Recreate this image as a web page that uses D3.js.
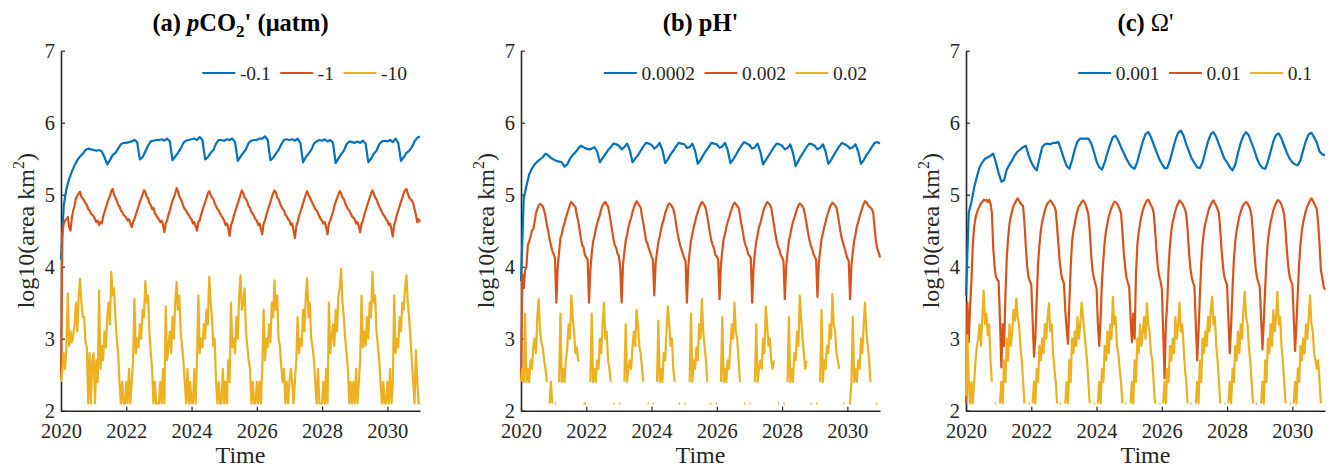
<!DOCTYPE html>
<html>
<head>
<meta charset="utf-8">
<script src="https://cdn.jsdelivr.net/npm/d3@7"></script>
<style>
  body { margin: 0; background: #fff; }
  svg { display: block; font-family: "Liberation Serif", "Times New Roman", serif; }
</style>
</head>
<body>
<svg id="chart" width="1330" height="468"></svg>
<script>
// time axis: every series starts at 2020, values are sampled evenly through each year
const startYear = 2020;
const endYear = 2031;
const yearTicks = [2020, 2022, 2024, 2026, 2028, 2030];
const levelTicks = [2, 3, 4, 5, 6, 7];
const colors = ["#0072BD", "#D95319", "#EDB120"];

const pco2Legend = ["-0.1", "-1", "-10"];
const phLegend = ["0.0002", "0.002", "0.02"];
const omegaLegend = ["0.001", "0.01", "0.1"];

// (a) pCO2' — 12 values per year for blue, 24 for red/yellow
const pco2Blue = [
  4.10, 4.85, 5.08, 5.22, 5.32, 5.41, 5.48, 5.53, 5.57, 5.62, 5.64, 5.63,
  5.62, 5.61, 5.62, 5.60, 5.52, 5.42, 5.48, 5.55, 5.58, 5.64, 5.70, 5.72,
  5.72, 5.73, 5.74, 5.76, 5.73, 5.49, 5.52, 5.60, 5.68, 5.74, 5.75, 5.76,
  5.76, 5.77, 5.75, 5.78, 5.74, 5.48, 5.53, 5.58, 5.64, 5.72, 5.75, 5.76,
  5.77, 5.78, 5.76, 5.80, 5.76, 5.49, 5.52, 5.58, 5.62, 5.71, 5.76, 5.76,
  5.75, 5.77, 5.76, 5.78, 5.73, 5.47, 5.53, 5.58, 5.63, 5.72, 5.75, 5.76,
  5.76, 5.78, 5.78, 5.81, 5.76, 5.48, 5.51, 5.57, 5.62, 5.70, 5.76, 5.77,
  5.76, 5.77, 5.75, 5.78, 5.72, 5.45, 5.52, 5.57, 5.62, 5.71, 5.74, 5.76,
  5.75, 5.77, 5.74, 5.76, 5.72, 5.44, 5.50, 5.56, 5.61, 5.70, 5.74, 5.73,
  5.72, 5.74, 5.72, 5.75, 5.71, 5.45, 5.50, 5.57, 5.61, 5.70, 5.74, 5.75,
  5.74, 5.76, 5.73, 5.78, 5.72, 5.47, 5.52, 5.58, 5.61, 5.66, 5.74, 5.79,
  5.81
];
const pco2Red = [
  2.45, 4.45, 4.60, 4.64, 4.66, 4.69, 4.55, 4.50, 4.68, 4.78, 4.85, 4.95, 4.98, 5.02, 5.04, 4.97, 4.95, 4.92, 4.88, 4.86, 4.80, 4.78, 4.74, 4.72,
  4.70, 4.66, 4.62, 4.64, 4.58, 4.62, 4.60, 4.70, 4.76, 4.82, 4.88, 4.94, 4.98, 5.05, 5.08, 5.00, 4.96, 4.92, 4.86, 4.84, 4.78, 4.76, 4.72, 4.70,
  4.68, 4.64, 4.66, 4.60, 4.55, 4.62, 4.66, 4.72, 4.78, 4.84, 4.90, 4.95, 5.00, 5.06, 5.04, 4.97, 4.95, 4.88, 4.86, 4.80, 4.82, 4.74, 4.72, 4.68,
  4.66, 4.62, 4.64, 4.58, 4.48, 4.60, 4.64, 4.72, 4.78, 4.85, 4.92, 4.96, 5.02, 5.09, 5.05, 4.98, 4.94, 4.90, 4.84, 4.80, 4.78, 4.74, 4.72, 4.68,
  4.66, 4.60, 4.62, 4.56, 4.50, 4.62, 4.64, 4.72, 4.78, 4.84, 4.90, 4.95, 5.02, 5.05, 5.00, 4.96, 4.94, 4.88, 4.84, 4.80, 4.78, 4.74, 4.70, 4.68,
  4.64, 4.58, 4.60, 4.54, 4.43, 4.58, 4.62, 4.70, 4.76, 4.82, 4.88, 4.94, 5.00, 5.06, 5.02, 4.96, 4.94, 4.90, 4.84, 4.82, 4.76, 4.74, 4.70, 4.66,
  4.64, 4.58, 4.60, 4.52, 4.45, 4.60, 4.64, 4.72, 4.78, 4.84, 4.90, 4.96, 5.02, 5.06, 5.03, 4.96, 4.94, 4.88, 4.84, 4.80, 4.78, 4.72, 4.70, 4.66,
  4.64, 4.58, 4.60, 4.50, 4.40, 4.56, 4.62, 4.70, 4.76, 4.82, 4.88, 4.94, 5.00, 5.05, 5.00, 4.96, 4.92, 4.88, 4.84, 4.80, 4.78, 4.74, 4.70, 4.66,
  4.64, 4.60, 4.62, 4.54, 4.45, 4.60, 4.64, 4.70, 4.76, 4.84, 4.90, 4.95, 5.00, 5.05, 5.02, 4.96, 4.94, 4.88, 4.84, 4.80, 4.78, 4.74, 4.70, 4.68,
  4.66, 4.60, 4.62, 4.56, 4.48, 4.60, 4.64, 4.72, 4.78, 4.84, 4.90, 4.96, 5.01, 5.06, 5.02, 4.96, 4.94, 4.88, 4.84, 4.80, 4.76, 4.72, 4.70, 4.66,
  4.64, 4.58, 4.60, 4.52, 4.42, 4.58, 4.64, 4.72, 4.78, 4.84, 4.90, 4.96, 5.02, 5.06, 5.08, 5.02, 4.96, 4.94, 4.92, 4.88, 4.80, 4.72, 4.62, 4.66,
  4.62
];
const pco2Yellow = [
  2.4, 2.58, 2.8, 2.58, 2.88, 3.63, 2.9, 3.1, 2.95, 3.05, 3.2, 3.5, 3.1, 3.6, 3.83, 3.5, 3.3, 3.3, 2.95, 2.88, 2.1, 2.8, 2.1, 2.7,
  2.8, 2.1, 2.7, 2.4, 3.67, 2.58, 2.9, 2.7, 3.1, 2.88, 3.3, 3.5, 3.2, 3.93, 3.6, 3.7, 3.3, 3.0, 2.8, 2.4, 2.1, 2.4, 2.1, 2.1,
  2.4, 2.1, 2.58, 2.1, 2.4, 2.7, 3.55, 2.8, 3.0, 2.88, 3.2, 3.0, 3.4, 3.3, 3.8, 3.5, 3.6, 3.1, 2.8, 2.58, 2.1, 2.4, 2.1, 2.1,
  2.1, 2.4, 2.1, 2.58, 2.1, 3.45, 2.7, 2.9, 3.1, 2.8, 3.3, 3.0, 3.5, 3.79, 3.4, 3.6, 3.1, 2.9, 2.7, 2.4, 2.1, 2.58, 2.1, 2.4,
  2.1, 2.1, 2.58, 2.1, 2.7, 3.6, 2.8, 3.0, 2.88, 3.2, 3.0, 3.4, 3.2, 3.86, 3.5, 3.3, 2.9, 3.0, 2.4, 2.1, 2.4, 2.1, 2.1, 2.58,
  2.1, 2.4, 2.1, 2.7, 2.4, 3.5, 2.88, 3.0, 2.8, 3.3, 3.0, 3.6, 3.88, 3.4, 3.5, 3.7, 3.1, 2.9, 2.7, 2.58, 2.1, 2.4, 2.1, 2.1,
  2.4, 2.1, 2.4, 2.1, 2.58, 3.4, 2.7, 3.0, 2.88, 3.2, 2.95, 3.5, 3.3, 3.81, 3.4, 3.6, 3.0, 2.9, 2.6, 2.4, 2.58, 2.1, 2.4, 2.1,
  2.4, 2.58, 2.4, 2.1, 2.4, 2.7, 3.3, 2.8, 3.0, 2.9, 3.4, 3.1, 3.6, 3.84, 3.3, 3.5, 3.0, 2.88, 2.7, 2.4, 2.1, 2.58, 2.1, 2.1,
  2.1, 2.4, 2.1, 2.58, 2.1, 3.5, 2.8, 3.0, 3.2, 2.9, 3.4, 3.1, 3.6, 3.7, 3.97, 3.5, 3.3, 3.0, 2.8, 2.58, 2.1, 2.4, 2.1, 2.4,
  2.1, 2.58, 2.1, 2.4, 2.7, 3.6, 2.88, 3.1, 2.9, 3.3, 3.0, 3.5, 3.3, 3.93, 3.5, 3.6, 3.1, 2.9, 2.7, 2.4, 2.1, 2.4, 2.1, 2.1,
  2.4, 2.1, 2.58, 2.1, 2.4, 3.6, 2.8, 3.0, 2.88, 3.3, 3.1, 3.5, 3.4, 3.7, 3.88, 3.5, 3.3, 3.0, 2.7, 2.4, 2.1, 2.84, 2.4, 2.1,
  2.1
];

// (b) pH'
const phBlue = [
  3.80, 4.95, 5.12, 5.28, 5.36, 5.42, 5.46, 5.49, 5.52, 5.57, 5.55, 5.51,
  5.49, 5.47, 5.46, 5.45, 5.39, 5.42, 5.50, 5.55, 5.59, 5.64, 5.68, 5.66,
  5.64, 5.63, 5.64, 5.66, 5.60, 5.45, 5.51, 5.56, 5.62, 5.66, 5.71, 5.70,
  5.68, 5.63, 5.66, 5.71, 5.62, 5.45, 5.50, 5.55, 5.61, 5.67, 5.72, 5.71,
  5.69, 5.64, 5.67, 5.72, 5.62, 5.44, 5.49, 5.56, 5.61, 5.67, 5.72, 5.71,
  5.70, 5.65, 5.66, 5.71, 5.61, 5.43, 5.48, 5.55, 5.61, 5.66, 5.72, 5.71,
  5.70, 5.65, 5.67, 5.72, 5.62, 5.44, 5.49, 5.55, 5.62, 5.68, 5.73, 5.71,
  5.69, 5.64, 5.66, 5.71, 5.60, 5.42, 5.48, 5.54, 5.60, 5.66, 5.71, 5.70,
  5.68, 5.63, 5.65, 5.70, 5.58, 5.40, 5.47, 5.54, 5.60, 5.66, 5.71, 5.70,
  5.68, 5.63, 5.65, 5.70, 5.60, 5.43, 5.48, 5.55, 5.61, 5.67, 5.72, 5.70,
  5.68, 5.64, 5.66, 5.70, 5.60, 5.43, 5.48, 5.55, 5.60, 5.66, 5.72, 5.73,
  5.71
];
const phRed = [
  2.45, 3.90, 3.70, 3.95, 4.00, 4.30, 4.35, 4.42, 4.50, 4.52, 4.62, 4.74, 4.80, 4.85, 4.87, 4.86, 4.84, 4.78, 4.70, 4.58, 4.50, 4.38, 4.30, 4.22,
  4.18, 4.12, 3.50, 4.00, 4.20, 4.40, 4.45, 4.55, 4.60, 4.68, 4.74, 4.80, 4.86, 4.90, 4.88, 4.85, 4.83, 4.72, 4.64, 4.52, 4.40, 4.30, 4.27, 4.16,
  4.13, 4.10, 3.50, 3.95, 4.18, 4.35, 4.42, 4.52, 4.60, 4.66, 4.72, 4.80, 4.85, 4.88, 4.90, 4.86, 4.84, 4.74, 4.62, 4.50, 4.38, 4.30, 4.26, 4.18,
  4.15, 3.98, 3.50, 4.02, 4.20, 4.36, 4.44, 4.55, 4.62, 4.68, 4.76, 4.82, 4.87, 4.91, 4.88, 4.85, 4.82, 4.70, 4.60, 4.48, 4.36, 4.32, 4.25, 4.20,
  4.14, 4.10, 3.60, 4.05, 4.20, 4.34, 4.42, 4.52, 4.60, 4.66, 4.74, 4.80, 4.85, 4.88, 4.86, 4.84, 4.80, 4.72, 4.60, 4.48, 4.38, 4.30, 4.24, 4.18,
  4.12, 4.08, 3.50, 4.00, 4.20, 4.36, 4.45, 4.55, 4.62, 4.70, 4.76, 4.82, 4.86, 4.90, 4.88, 4.85, 4.80, 4.70, 4.58, 4.46, 4.36, 4.30, 4.25, 4.16,
  4.14, 4.10, 3.55, 4.02, 4.22, 4.38, 4.45, 4.55, 4.62, 4.68, 4.75, 4.80, 4.86, 4.89, 4.87, 4.84, 4.82, 4.72, 4.60, 4.50, 4.38, 4.30, 4.26, 4.18,
  4.15, 4.12, 3.50, 3.98, 4.20, 4.35, 4.44, 4.55, 4.60, 4.68, 4.76, 4.82, 4.86, 4.90, 4.88, 4.86, 4.82, 4.70, 4.58, 4.46, 4.36, 4.28, 4.24, 4.16,
  4.13, 4.08, 3.55, 4.00, 4.20, 4.36, 4.44, 4.54, 4.62, 4.68, 4.74, 4.80, 4.85, 4.88, 4.86, 4.84, 4.80, 4.70, 4.60, 4.48, 4.38, 4.30, 4.25, 4.18,
  4.14, 4.10, 3.58, 4.05, 4.22, 4.38, 4.46, 4.55, 4.62, 4.70, 4.76, 4.82, 4.86, 4.89, 4.87, 4.85, 4.82, 4.72, 4.60, 4.48, 4.38, 4.32, 4.26, 4.18,
  4.12, 4.08, 3.55, 4.02, 4.20, 4.36, 4.45, 4.56, 4.62, 4.70, 4.76, 4.82, 4.87, 4.91, 4.90, 4.86, 4.84, 4.82, 4.80, 4.75, 4.55, 4.35, 4.25, 4.20,
  4.13
];
const phYellow = [
  2.4, 2.58, 2.4, 3.35, 2.4, 2.58, 2.4, 2.7, 2.58, 2.88, 3.0, 2.8, 3.3, 3.55, 3.1, 2.95, 2.88, 2.7, 2.58, 2.4, null, 2.1, 2.4, 2.1,
  null, 2.1, 2.1, null, 2.4, 3.35, 2.4, 2.58, 2.4, 2.7, 2.88, 3.2, 3.0, 3.6, 3.3, 3.1, 2.8, 2.88, 2.7, 2.7, null, null, 2.1, 2.1,
  2.1, null, null, 2.4, 3.35, 2.4, 2.58, 2.4, 2.7, 2.58, 3.0, 2.8, 3.2, 3.5, 3.0, 3.1, 2.7, 2.58, 2.4, null, 2.1, 2.1, null, null,
  2.1, 2.1, null, null, 2.4, 3.2, 2.4, 2.58, 2.7, 2.58, 2.88, 3.1, 2.9, 3.4, 3.2, 2.9, 2.8, 2.58, 2.4, null, null, 2.1, 2.1, null,
  null, 2.1, 2.1, null, 2.4, 3.25, 2.4, 2.58, 2.4, 2.8, 2.7, 3.1, 3.45, 3.2, 2.9, 3.0, 2.58, 2.4, null, null, 2.1, 2.1, null, null,
  2.1, 2.1, null, null, 2.4, 3.35, 2.4, 2.7, 2.58, 2.88, 2.7, 3.2, 3.0, 3.55, 3.1, 2.9, 2.7, 2.4, null, 2.1, 2.1, null, null, 2.1,
  2.1, null, null, 2.4, 3.3, 2.4, 2.58, 2.4, 2.7, 2.58, 2.9, 3.2, 3.0, 3.5, 3.1, 3.0, 2.7, 2.4, null, null, 2.1, 2.1, null, null,
  2.1, 2.1, null, null, 2.4, 3.2, 2.4, 2.58, 2.7, 2.58, 3.0, 2.8, 3.45, 3.2, 2.9, 3.0, 2.7, 2.58, 2.7, null, null, 2.1, 2.1, null,
  null, 2.1, 2.1, null, 2.4, 3.3, 2.4, 2.58, 2.4, 2.8, 2.7, 3.1, 2.9, 3.6, 3.3, 3.0, 2.8, 2.58, 2.7, null, null, 2.1, 2.1, null,
  null, 2.1, 2.1, null, 2.4, 3.4, 2.4, 2.7, 2.58, 2.9, 2.8, 3.2, 3.0, 3.62, 3.2, 3.1, 2.8, 2.7, 2.58, null, null, 2.1, 2.1, null,
  null, 2.1, 2.1, 2.4, 3.3, 2.4, 2.58, 2.4, 2.7, 2.58, 3.0, 2.8, 3.2, 3.5, 3.1, 2.9, 2.7, 2.4, null, null, null, 2.1, 2.1, null,
  null
];

// (c) Omega'
const omegaBlue = [
  3.60, 4.75, 4.90, 5.10, 5.25, 5.38, 5.45, 5.50, 5.52, 5.54, 5.57, 5.45,
  5.30, 5.18, 5.20, 5.35, 5.42, 5.48, 5.55, 5.60, 5.63, 5.66, 5.68, 5.55,
  5.45, 5.38, 5.34, 5.50, 5.66, 5.70, 5.71, 5.70, 5.72, 5.72, 5.73, 5.62,
  5.50, 5.40, 5.36, 5.48, 5.63, 5.74, 5.78, 5.78, 5.78, 5.78, 5.72, 5.60,
  5.46, 5.38, 5.35, 5.45, 5.58, 5.70, 5.80, 5.82, 5.75, 5.66, 5.58, 5.50,
  5.43, 5.38, 5.36, 5.46, 5.60, 5.74, 5.84, 5.87, 5.80, 5.70, 5.60, 5.50,
  5.43, 5.37, 5.37, 5.48, 5.62, 5.76, 5.86, 5.89, 5.82, 5.70, 5.60, 5.50,
  5.44, 5.38, 5.37, 5.45, 5.60, 5.74, 5.84, 5.87, 5.80, 5.70, 5.60, 5.50,
  5.45, 5.38, 5.34, 5.42, 5.58, 5.72, 5.82, 5.87, 5.82, 5.72, 5.62, 5.50,
  5.42, 5.37, 5.36, 5.46, 5.60, 5.74, 5.83, 5.85, 5.78, 5.68, 5.58, 5.50,
  5.45, 5.42, 5.41, 5.48, 5.62, 5.75, 5.84, 5.86, 5.80, 5.72, 5.60, 5.56,
  5.55
];
const omegaRed = [
  2.10, 3.50, 2.95, 3.45, 3.80, 4.30, 4.55, 4.68, 4.75, 4.80, 4.84, 4.88, 4.90, 4.93, 4.92, 4.93, 4.90, 4.93, 4.88, 4.75, 4.28, 4.00, 3.86, 3.82,
  3.80, 3.25, 2.60, 3.20, 2.90, 3.60, 4.13, 4.40, 4.60, 4.70, 4.78, 4.85, 4.88, 4.92, 4.95, 4.92, 4.88, 4.86, 4.84, 4.60, 4.28, 4.00, 3.85, 3.80,
  3.75, 3.25, 2.75, 3.00, 3.55, 4.04, 4.30, 4.50, 4.62, 4.70, 4.78, 4.84, 4.88, 4.90, 4.92, 4.90, 4.86, 4.84, 4.78, 4.55, 4.30, 4.05, 3.90, 3.82,
  3.77, 3.40, 3.14, 2.93, 3.50, 4.00, 4.35, 4.50, 4.60, 4.70, 4.78, 4.84, 4.86, 4.90, 4.92, 4.90, 4.86, 4.80, 4.72, 4.50, 4.18, 3.95, 3.85, 3.77,
  3.70, 3.20, 2.90, 3.30, 3.80, 4.10, 4.35, 4.50, 4.60, 4.70, 4.76, 4.82, 4.86, 4.90, 4.90, 4.88, 4.84, 4.80, 4.74, 4.50, 4.20, 4.00, 3.85, 3.78,
  3.72, 3.30, 2.95, 3.35, 3.00, 3.90, 4.30, 4.48, 4.60, 4.70, 4.78, 4.84, 4.88, 4.92, 4.93, 4.90, 4.85, 4.82, 4.75, 4.52, 4.25, 4.00, 3.88, 3.80,
  3.70, 3.10, 2.45, 3.20, 3.50, 4.00, 4.30, 4.50, 4.62, 4.70, 4.78, 4.84, 4.88, 4.92, 4.90, 4.88, 4.84, 4.80, 4.72, 4.50, 4.20, 3.98, 3.85, 3.78,
  3.72, 3.20, 2.70, 3.10, 3.60, 4.05, 4.32, 4.50, 4.60, 4.68, 4.76, 4.82, 4.86, 4.90, 4.92, 4.88, 4.85, 4.80, 4.74, 4.50, 4.22, 4.00, 3.86, 3.80,
  3.74, 3.25, 2.80, 3.20, 3.70, 4.10, 4.35, 4.50, 4.60, 4.70, 4.76, 4.82, 4.86, 4.88, 4.90, 4.88, 4.84, 4.80, 4.70, 4.48, 4.20, 3.98, 3.85, 3.78,
  3.72, 3.30, 2.85, 3.25, 3.70, 4.10, 4.35, 4.50, 4.62, 4.70, 4.78, 4.84, 4.88, 4.92, 4.92, 4.90, 4.86, 4.80, 4.72, 4.50, 4.22, 4.00, 3.86, 3.80,
  3.75, 3.30, 2.83, 3.20, 3.65, 4.05, 4.32, 4.50, 4.62, 4.70, 4.78, 4.84, 4.88, 4.92, 4.95, 4.92, 4.88, 4.84, 4.80, 4.60, 4.30, 3.95, 3.85, 3.72,
  3.68
];
const omegaYellow = [
  2.2, 3.05, 2.4, 2.1, 2.4, 2.1, 2.4, 2.7, 2.9, 3.0, 3.2, 2.9, 3.3, 3.67, 3.2, 3.35, 3.05, 3.2, 2.7, 2.4, null, 2.1, 2.1, null,
  null, 2.1, 2.4, 2.1, 2.7, 2.4, 3.0, 2.7, 3.2, 2.9, 3.1, 3.4, 3.25, 3.56, 3.3, 3.2, 2.9, 2.7, 2.4, 2.1, null, null, 2.1, 2.1,
  null, 2.1, 2.4, 2.1, 2.58, 2.4, 2.9, 2.7, 3.0, 2.8, 3.2, 3.0, 3.3, 3.49, 3.1, 3.2, 2.8, 2.58, 2.4, 2.1, null, 2.1, 2.1, null,
  null, 2.1, 2.4, 2.1, 2.7, 2.4, 3.0, 2.8, 3.1, 2.9, 3.3, 3.0, 3.2, 3.5, 3.3, 3.1, 2.9, 2.7, 2.4, 2.1, null, null, 2.1, 2.1,
  null, 2.1, 2.4, 2.1, 2.58, 2.4, 2.9, 2.7, 3.1, 2.8, 3.2, 3.0, 3.58, 3.2, 3.3, 2.9, 2.8, 2.58, 2.4, 2.1, null, 2.1, 2.1, null,
  null, 2.1, 2.4, 2.1, 2.7, 2.4, 3.0, 2.8, 3.2, 2.9, 3.1, 3.3, 3.0, 3.49, 3.2, 3.1, 2.8, 2.7, 2.4, 2.1, null, null, 2.1, 2.1,
  null, 2.1, 2.4, 2.1, 2.58, 2.4, 2.9, 2.7, 3.0, 2.8, 3.3, 3.0, 3.2, 3.5, 3.1, 3.2, 2.9, 2.58, 2.4, 2.1, null, 2.1, 2.1, null,
  null, 2.1, 2.4, 2.1, 2.7, 2.4, 3.0, 2.8, 3.1, 2.9, 3.3, 3.1, 3.4, 3.58, 3.2, 3.3, 2.9, 2.7, 2.4, 2.1, null, null, 2.1, 2.1,
  null, 2.1, 2.4, 2.1, 2.58, 2.4, 2.9, 2.7, 3.1, 2.8, 3.2, 3.0, 3.4, 3.65, 3.3, 3.2, 2.9, 2.7, 2.4, 2.1, null, 2.1, 2.1, null,
  null, 2.1, 2.4, 2.1, 2.7, 2.4, 3.0, 2.8, 3.2, 2.9, 3.4, 3.1, 3.3, 3.65, 3.2, 3.3, 2.9, 2.7, 2.4, 2.1, null, null, 2.1, 2.1,
  null, 2.1, 2.4, 2.1, 2.58, 2.4, 2.9, 2.7, 3.0, 2.8, 3.2, 3.0, 3.3, 3.6, 3.2, 3.1, 2.8, 2.7, 2.58, 2.7, 2.4, 2.1, null, null,
  null
];

const panels = [
  {
    left: 61,
    title: [{ text: "(a) " }, { text: "p", italic: true }, { text: "CO" }, { text: "2", sub: true }, { text: "' (μatm)", back: true }],
    legend: pco2Legend,
    series: [[pco2Blue, 12], [pco2Red, 24], [pco2Yellow, 24]]
  },
  {
    left: 521,
    title: [{ text: "(b) pH'" }],
    legend: phLegend,
    series: [[phBlue, 12], [phRed, 24], [phYellow, 24]]
  },
  {
    left: 966,
    title: [{ text: "(c) " }, { text: "Ω'", normal: true }],
    legend: omegaLegend,
    series: [[omegaBlue, 12], [omegaRed, 24], [omegaYellow, 24]]
  }
];

const svg = d3.select("#chart");
const plotTop = 50.7, plotBottom = 410.7, plotWidth = 359;
const axisColor = "#262626";

const y = d3.scaleLinear().domain([2, 7]).range([plotBottom, plotTop]);

panels.forEach(p => {
  const x = d3.scaleLinear().domain([startYear, endYear]).range([p.left, p.left + plotWidth]);
  const cx = p.left + plotWidth / 2;
  const g = svg.append("g");

  // Axes (MATLAB style: ticks pointing inward, no box)
  const xAxis = g.append("g")
    .attr("transform", `translate(0,${plotBottom})`)
    .call(d3.axisBottom(x).tickValues(yearTicks).tickFormat(d3.format("d"))
      .tickSizeInner(-4).tickSizeOuter(0).tickPadding(12.5));

  const yAxis = g.append("g")
    .attr("transform", `translate(${p.left},0)`)
    .call(d3.axisLeft(y).tickValues(levelTicks).tickFormat(d3.format("d"))
      .tickSizeInner(-4).tickSizeOuter(0).tickPadding(6));

  [xAxis, yAxis].forEach(a => {
    a.attr("font-family", null).attr("font-size", null);
    a.select(".domain").attr("stroke", axisColor).attr("stroke-width", 1.6);
    a.selectAll(".tick line").attr("stroke", axisColor).attr("stroke-width", 1.2);
    a.selectAll(".tick text").attr("fill", axisColor).style("font-size", "20.5px");
  });
  yAxis.selectAll(".tick text").attr("dy", "0.34em");

  // Lines
  p.series.forEach(([values, perYear], j) => {
    const pts = values.map((v, k) => ({ t: startYear + k / perYear, v }));
    const line = d3.line()
      .defined(d => d.v !== null)
      .x(d => x(d.t))
      .y(d => y(d.v));
    g.append("path")
      .datum(pts)
      .attr("fill", "none")
      .attr("stroke", colors[j])
      .attr("stroke-width", 2.2)
      .attr("stroke-linejoin", "round")
      .attr("d", line);
  });

  // Title
  const title = g.append("text")
    .attr("x", cx).attr("y", 30.5)
    .attr("text-anchor", "middle")
    .attr("font-weight", "bold")
    .style("font-size", "24.5px");
  p.title.forEach(part => {
    const s = title.append("tspan").text(part.text);
    if (part.italic) s.attr("font-style", "italic");
    if (part.normal) s.attr("font-weight", "normal");
    if (part.sub) s.style("font-size", "17px").attr("dy", 6);
    if (part.back) s.attr("dy", -6);
  });

  // Axis labels
  g.append("text")
    .attr("x", cx).attr("y", 463)
    .attr("text-anchor", "middle")
    .attr("fill", axisColor)
    .style("font-size", "24px")
    .text("Time");

  const ylab = g.append("text")
    .attr("transform", `translate(${p.left - 27},${(plotTop + plotBottom) / 2}) rotate(-90)`)
    .attr("text-anchor", "middle")
    .attr("fill", axisColor)
    .style("font-size", "24px");
  ylab.append("tspan").text("log10(area km");
  ylab.append("tspan").text("2").style("font-size", "16px").attr("dy", -10);
  ylab.append("tspan").text(")").attr("dy", 10);

  // Legend, right-aligned in the top of the plot
  const legend = g.append("g");
  const items = p.legend.map((label, j) => {
    const it = legend.append("g");
    it.append("line")
      .attr("x1", 0).attr("x2", 33).attr("y1", 73).attr("y2", 73)
      .attr("stroke", colors[j]).attr("stroke-width", 2.2);
    const t = it.append("text")
      .attr("x", 37.5).attr("y", 79.5)
      .attr("fill", axisColor)
      .style("font-size", "19.5px")
      .text(label);
    return { it, w: 37.5 + t.node().getComputedTextLength() };
  });
  const gap = 9.5;
  const total = d3.sum(items, d => d.w) + gap * (items.length - 1);
  let pos = p.left + plotWidth - 13 - total;
  items.forEach(d => {
    d.it.attr("transform", `translate(${pos},0)`);
    pos += d.w + gap;
  });
});
</script>
</body>
</html>
